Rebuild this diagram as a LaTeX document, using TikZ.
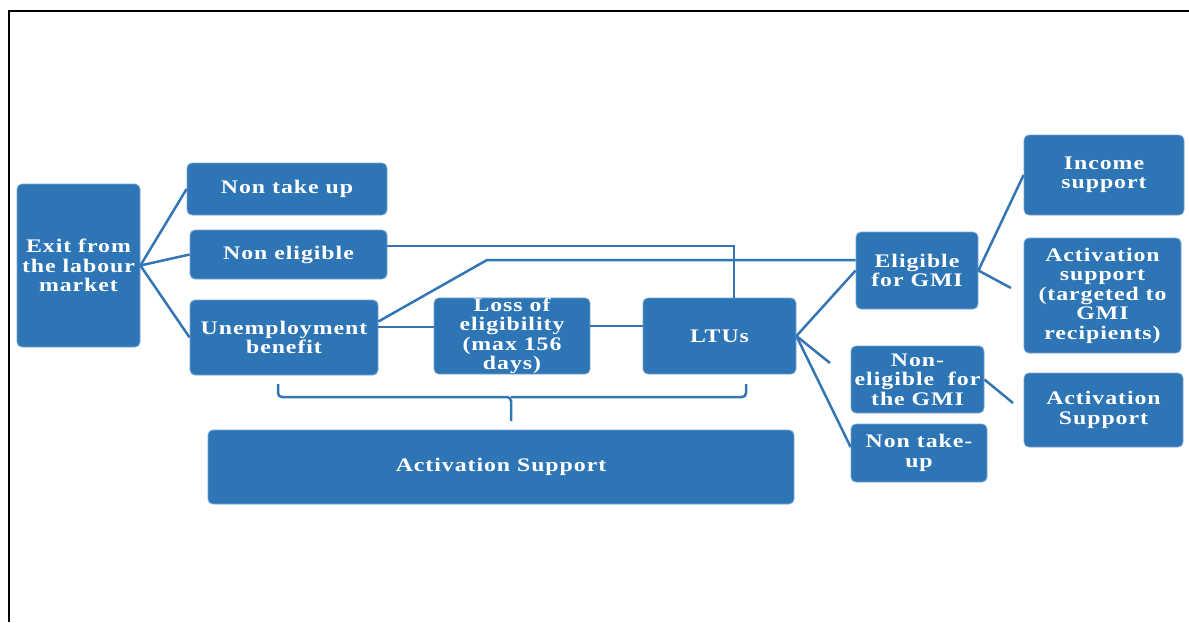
\documentclass[tikz,border=0pt]{standalone}
\usepackage{fontspec}
\setmainfont{Liberation Serif}[FakeStretch=1.24,LetterSpace=5]
\usepackage{tikz}

\begin{document}
\begin{tikzpicture}[x=1pt,y=-1pt,
  box/.style={rectangle,rounded corners=5pt,fill=boxBlue,draw=boxEdge,line width=0.8pt,text=white,
    font=\bfseries\fontsize{19.2}{19.5}\selectfont,align=center,inner sep=0pt},
  link/.style={draw=lineBlue,line width=2.5pt}]
\definecolor{boxBlue}{RGB}{46,117,182}
\definecolor{boxEdge}{RGB}{120,165,210}
\definecolor{lineBlue}{RGB}{52,118,180}
\useasboundingbox (0,0) rectangle (1189,622);
\draw[line width=2pt] (9,622) -- (9,11) -- (1189,11);
\node[box,minimum width=123pt,minimum height=163pt] (exit) at (78.5,265.5) {Exit from\\the labour\\market};
\node[box,minimum width=200pt,minimum height=52pt] (ntu) at (287,189) {Non take up};
\node[box,minimum width=197pt,minimum height=49pt] (nel) at (288.5,254.5) {Non eligible};
\node[box,minimum width=188pt,minimum height=75pt] (ub) at (284,337.5) {Unemployment\\benefit};
\node[box,minimum width=156pt,minimum height=76pt] (loss) at (512,336) {Loss of\\eligibility\\(max 156\\days)};
\node[box,minimum width=153pt,minimum height=76pt] (ltu) at (719.5,336) {LTUs};
\node[box,minimum width=586pt,minimum height=74pt] (act) at (501,467) {Activation Support};
\node[box,minimum width=122pt,minimum height=77pt] (elig) at (917,270.5) {Eligible\\for GMI};
\node[box,minimum width=133pt,minimum height=67pt] (nonel) at (917.5,379.5) {Non-\\eligible\ \ for\\the GMI};
\node[box,minimum width=136pt,minimum height=58pt] (ntub) at (919,453) {Non take-\\up};
\node[box,minimum width=160pt,minimum height=80pt] (inc) at (1104,175) {Income\\support};
\node[box,minimum width=157pt,minimum height=115pt] (actgmi) at (1102.5,295.5) {Activation\\support\\(targeted to\\GMI\\recipients)};
\node[box,minimum width=159pt,minimum height=74pt] (actsup) at (1103.5,410) {Activation\\Support};
\coordinate (bend) at (487,260);
\coordinate (ltustub) at (830,363);
\coordinate (ntubin) at ([yshift=6pt]ntub.west);
\coordinate (eligstub) at (1011,288);
\coordinate (nonelstub) at (1013,403);
\coordinate (braceL) at (278,384);
\coordinate (braceM) at (511,397);
\coordinate (braceT) at (511,421);
\coordinate (braceR) at (746,384);
\foreach \n in {ntu,nel,ub}
  \draw[link] (exit.east) -- (\n.west);
\draw[link] ([yshift=8.5pt]nel.east) -| ([xshift=14.5pt]ltu.north);
\draw[link] ([yshift=16pt]ub.east) -- (bend) -- (bend -| elig.west);
\draw[link] ([yshift=10.5pt]ub.east) -- ([yshift=10.5pt]ub.east -| loss.west);
\draw[link] ([yshift=10pt]loss.east) -- ([yshift=10pt]loss.east -| ltu.west);
\foreach \n in {elig.west,ltustub,ntubin}
  \draw[link] (ltu.east) -- (\n);
\draw[link] (elig.east) -- (inc.west);
\draw[link] (elig.east) -- (eligstub);
\draw[link] (nonel.east) -- (nonelstub);
\draw[link,rounded corners=4pt] (braceL) |- (braceM) -- (braceT);
\draw[link,rounded corners=4pt] (braceM) -| (braceR);
\end{tikzpicture}
\end{document}
